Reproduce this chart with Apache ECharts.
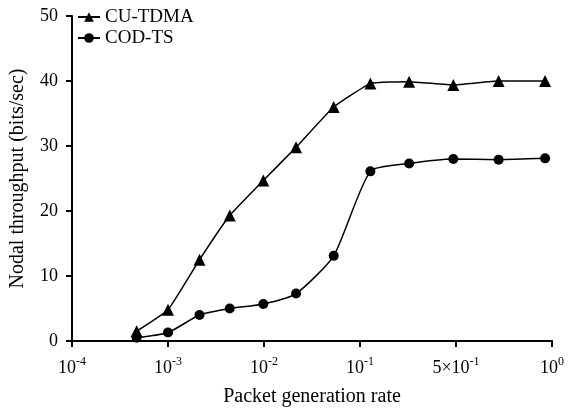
<!DOCTYPE html>
<html>
<head>
<meta charset="utf-8">
<script src="https://cdn.jsdelivr.net/npm/echarts@6/dist/echarts.min.js"></script>
<style>
html,body{margin:0;padding:0;background:#fff;}
#chart{width:568px;height:412px;}
</style>
</head>
<body>
<div id="chart"></div>
<script>
// Tick positions along the x axis (evenly spaced decades as in the source figure)
const tickLabels = [['10','-4'],['10','-3'],['10','-2'],['10','-1'],['5\u00d710','-1'],['10','0']];
// x positions of the measured points, in tick-index units of the x axis
const xPositions = [0.673, 1.0, 1.328, 1.643, 1.993, 2.334, 2.726, 3.108, 3.512, 3.972, 4.444, 4.928];
const cuTdma = [1.5, 4.8, 12.5, 19.3, 24.7, 29.8, 36.0, 39.6, 39.9, 39.4, 40.0, 40.0];
const codTs  = [0.5, 1.3, 4.0, 5.0, 5.7, 7.3, 13.1, 26.1, 27.3, 28.0, 27.9, 28.1];
const seriesNames = ['CU-TDMA', 'COD-TS'];

const font = 'Liberation Serif';
const pair = (xs, ys) => xs.map((x, i) => [x, ys[i]]);

const chart = echarts.init(document.getElementById('chart'), null, {renderer: 'canvas'});
chart.setOption({
  animation: false,
  backgroundColor: '#fff',
  textStyle: {fontFamily: font, color: '#000'},
  grid: {left: 69, right: 16, top: 16, bottom: 69, containLabel: false},
  legend: {
    orient: 'vertical',
    left: 72,
    top: 7,
    padding: [0, 5],
    itemWidth: 22,
    itemHeight: 12,
    itemGap: 1,
    data: seriesNames,
    textStyle: {fontFamily: font, fontSize: 19, color: '#000', lineHeight: 20}
  },
  xAxis: {
    type: 'value',
    min: 0, max: 5, interval: 1,
    name: 'Packet generation rate',
    nameLocation: 'middle',
    nameGap: 46,
    nameTextStyle: {fontFamily: font, fontSize: 20, color: '#000'},
    axisLine: {onZero: false, lineStyle: {color: '#000', width: 2}},
    axisTick: {inside: false, length: 6, lineStyle: {color: '#000', width: 2}},
    splitLine: {show: false},
    axisLabel: {
      margin: 15,
      color: '#000',
      formatter: v => {
        const t = tickLabels[Math.round(v)];
        return t ? '{b|' + t[0] + '}{s|' + t[1] + '}' : '';
      },
      rich: {
        b: {fontFamily: font, fontSize: 18, color: '#000', lineHeight: 21, verticalAlign: 'bottom'},
        s: {fontFamily: font, fontSize: 12, color: '#000', lineHeight: 21, verticalAlign: 'top'}
      }
    }
  },
  yAxis: {
    type: 'value',
    min: 0, max: 50, interval: 10,
    name: 'Nodal throughput (bits/sec)',
    nameLocation: 'middle',
    nameGap: 44,
    nameTextStyle: {fontFamily: font, fontSize: 20, color: '#000'},
    axisLine: {show: true, lineStyle: {color: '#000', width: 2}},
    axisTick: {show: true, inside: false, length: 6, lineStyle: {color: '#000', width: 2}},
    splitLine: {show: false},
    axisLabel: {margin: 14, fontFamily: font, fontSize: 18, color: '#000'}
  },
  series: [
    {
      name: seriesNames[0],
      type: 'line',
      data: pair(xPositions, cuTdma),
      smooth: 0.12,
      symbol: 'triangle',
      symbolSize: 12,
      lineStyle: {color: '#000', width: 1.5},
      itemStyle: {color: '#000'}
    },
    {
      name: seriesNames[1],
      type: 'line',
      data: pair(xPositions, codTs),
      smooth: 0.2,
      symbol: 'circle',
      symbolSize: 10,
      lineStyle: {color: '#000', width: 1.5},
      itemStyle: {color: '#000'}
    }
  ]
});
</script>
</body>
</html>
